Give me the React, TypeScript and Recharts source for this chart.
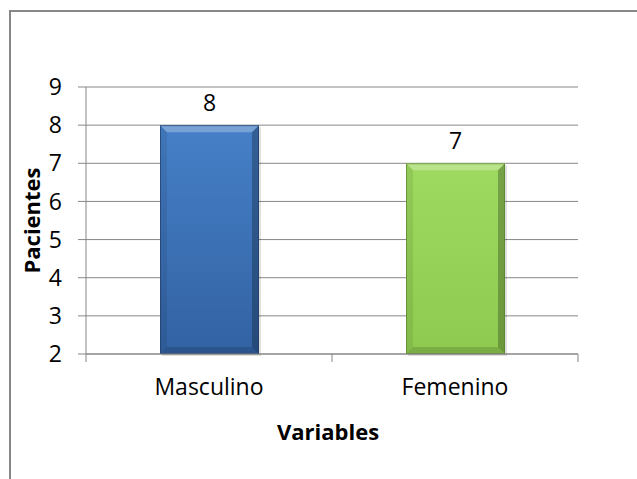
import React from "react";
import {
  Bar,
  BarChart,
  CartesianGrid,
  LabelList,
  XAxis,
  YAxis,
} from "recharts";

const categories = ["Masculino", "Femenino"];
const patients = [8, 7];
const yTicks = [2, 3, 4, 5, 6, 7, 8, 9];

const FONT = "'Open Sans', 'Noto Sans', sans-serif";
const GRID = "#878787";

// base gradient and edge colour per bar
const palettes = [
  { top: "#4680c8", bottom: "#3262a2", edge: "#1f3d68" },
  { top: "#9fda60", bottom: "#8fca50", edge: "#55802a" },
];

const data = categories.map((name, i) => ({ name, value: patients[i] }));

function BevelBar(props: any) {
  const { x, y, width, height, index } = props;
  if (width == null || height == null || height <= 0) return null;
  const i = index ?? categories.indexOf(props.payload?.name);
  const p = palettes[i % palettes.length];
  const b = Math.min(7, width / 6, height / 6);
  const r = x + width;
  const btm = y + height;
  return (
    <g>
      <rect x={x + 2} y={y + 2} width={width} height={height} fill="#000" opacity={0.12} />
      <rect x={x} y={y} width={width} height={height} fill={`url(#barGrad${i})`} />
      <polygon
        points={`${x},${y} ${r},${y} ${r - b},${y + b} ${x + b},${y + b}`}
        fill="#fff"
        opacity={0.28}
      />
      <polygon
        points={`${x},${y} ${x + b},${y + b} ${x + b},${btm - b} ${x},${btm}`}
        fill="#000"
        opacity={0.08}
      />
      <polygon
        points={`${r},${y} ${r},${btm} ${r - b},${btm - b} ${r - b},${y + b}`}
        fill="#000"
        opacity={0.25}
      />
      <polygon
        points={`${x},${btm} ${r},${btm} ${r - b},${btm - b} ${x + b},${btm - b}`}
        fill="#000"
        opacity={0.14}
      />
      <rect
        x={x + 0.5}
        y={y + 0.5}
        width={width - 1}
        height={height - 1}
        fill="none"
        stroke={p.edge}
        strokeOpacity={0.7}
      />
    </g>
  );
}

// category label plus the tick marks that sit on the band edges
function CategoryTick(props: any) {
  const { x, y, payload, index, visibleTicksCount } = props;
  const half = payload?.offset ?? 0;
  const axisY = y - 8;
  const last = index === (visibleTicksCount ?? categories.length) - 1;
  return (
    <g>
      <line x1={x - half} y1={axisY} x2={x - half} y2={axisY + 8} stroke={GRID} />
      {last && (
        <line x1={x + half} y1={axisY} x2={x + half} y2={axisY + 8} stroke={GRID} />
      )}
      <text
        x={x}
        y={y}
        dy={33}
        textAnchor="middle"
        fontFamily={FONT}
        fontSize={23}
        fill="#000"
      >
        {payload.value}
      </text>
    </g>
  );
}

function YTitle(props: any) {
  const vb = props.viewBox || {};
  const cx = vb.x + 1;
  const cy = vb.y + vb.height / 2;
  return (
    <text
      x={cx}
      y={cy}
      transform={`rotate(-90 ${cx} ${cy})`}
      textAnchor="middle"
      dominantBaseline="central"
      fontFamily={FONT}
      fontSize={22}
      fontWeight="bold"
      fill="#000"
    >
      Pacientes
    </text>
  );
}

function XTitle(props: any) {
  const vb = props.viewBox || {};
  const cx = vb.x + vb.width / 2 - 4;
  return (
    <text
      x={cx}
      y={vb.y + 86}
      textAnchor="middle"
      fontFamily={FONT}
      fontSize={22}
      fontWeight="bold"
      fill="#000"
    >
      Variables
    </text>
  );
}

export default function App() {
  return (
    <div
      style={{
        position: "fixed",
        left: 0,
        top: 0,
        width: 637,
        height: 479,
        overflow: "hidden",
        background: "#fff",
      }}
    >
      {/* frame: only top and left edges fall inside the view */}
      <div
        style={{
          position: "absolute",
          left: 9,
          top: 10,
          width: 800,
          height: 800,
          borderTop: "2px solid #878787",
          borderLeft: "2px solid #878787",
        }}
      />
      <div style={{ position: "absolute", left: 0, top: 0 }}>
        <BarChart
          width={637}
          height={479}
          data={data}
          margin={{ top: 87, right: 59, bottom: 30, left: 30 }}
        >
          <defs>
            {palettes.map((p, i) => (
              <linearGradient key={i} id={`barGrad${i}`} x1="0" y1="0" x2="0" y2="1">
                <stop offset="0%" stopColor={p.top} />
                <stop offset="100%" stopColor={p.bottom} />
              </linearGradient>
            ))}
          </defs>
          <CartesianGrid vertical={false} stroke={GRID} />
          <XAxis
            dataKey="name"
            height={95}
            axisLine={{ stroke: GRID }}
            tickLine={false}
            tickSize={8}
            tickMargin={0}
            tick={<CategoryTick />}
            label={<XTitle />}
          />
          <YAxis
            width={56}
            domain={[2, 9]}
            ticks={yTicks}
            interval={0}
            axisLine={{ stroke: GRID }}
            tickLine={{ stroke: GRID }}
            tickSize={8}
            tickMargin={16}
            tick={{ fontFamily: FONT, fontSize: 23, fill: "#000" }}
            label={<YTitle />}
          />
          <Bar
            dataKey="value"
            barSize={99}
            shape={<BevelBar />}
            isAnimationActive={false}
          >
            <LabelList
              dataKey="value"
              position="top"
              offset={14}
              fontFamily={FONT}
              fontSize={23}
              fill="#000"
            />
          </Bar>
        </BarChart>
      </div>
    </div>
  );
}
